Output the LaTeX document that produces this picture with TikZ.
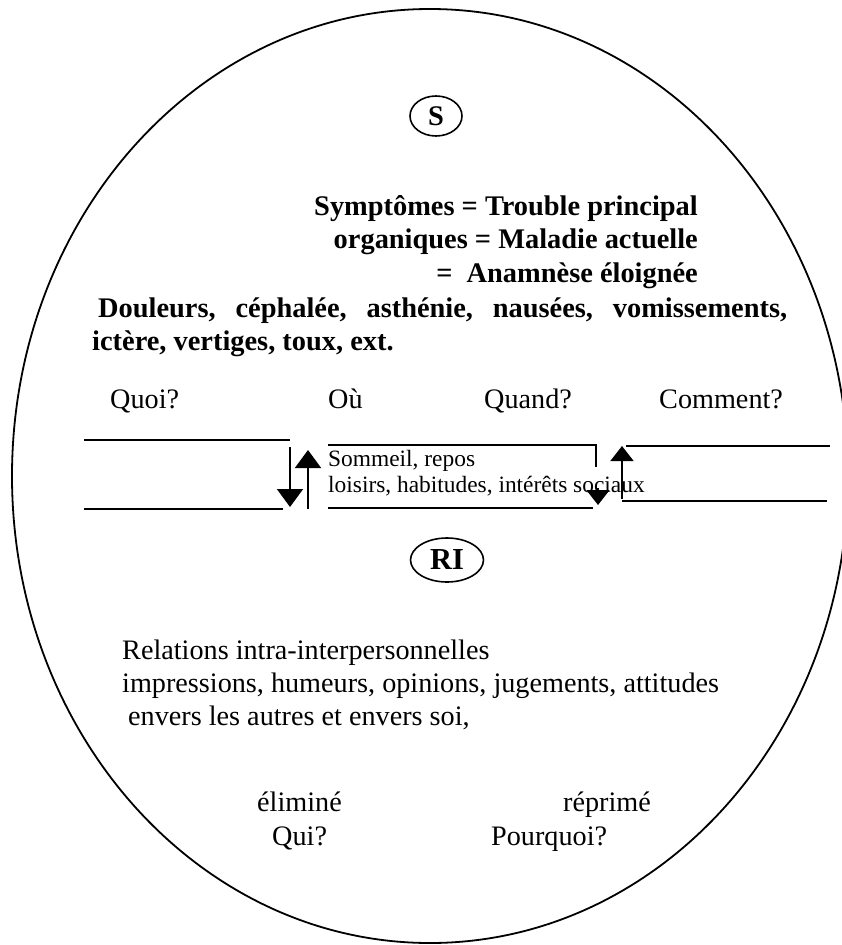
\documentclass[tikz,border=0pt]{standalone}
\usepackage{fontspec}
\setmainfont{Liberation Serif}
\usetikzlibrary{arrows.meta,shapes.geometric}
\begin{document}
\begin{tikzpicture}[x=1pt,y=-1pt,
  big/.style={font=\fontsize{28.4}{33}\selectfont\bfseries, inner sep=0pt},
  reg/.style={font=\fontsize{28.2}{33}\selectfont, inner sep=0pt},
  small/.style={font=\fontsize{23.4}{26}\selectfont, inner sep=0pt},
  rulel/.style={line width=1.8pt},
  tipline/.style={line width=1.8pt, -{Triangle[width=26pt,length=18pt]}},
  smalltip/.style={line width=1.8pt, -{Triangle[width=23pt,length=15pt]}},
  tag/.style={draw, ellipse, line width=1.6pt, inner sep=0pt, font=\fontsize{28.4}{33}\selectfont\bfseries}]
\useasboundingbox (0,0) rectangle (841,945);
% outer ellipse
\draw[line width=1.8pt] (430,476) ellipse [x radius=418pt, y radius=467pt];
% labels in ellipses
\node[tag, minimum width=52pt, minimum height=40pt] (S) at (436,116) {S};
\node[tag, minimum width=73pt, minimum height=44pt, font=\fontsize{30.5}{33}\selectfont\bfseries] (RI) at (447,560) {RI};
% bold block
\node[big, anchor=base east] (t1) at (698,215) {Symptômes = Trouble principal};
\node[big, anchor=base east] (t2) at (698,248) {organiques = Maladie actuelle};
\node[big, anchor=base east] (t3) at (698,282) {=\ \ Anamnèse éloignée};
\node[big, anchor=base west] (t4) at (98,317) {\hbox to 689pt{Douleurs,\hfill céphalée,\hfill asthénie,\hfill nausées,\hfill vomissements,}};
\node[big, anchor=base west] (t5) at (92,350) {ictère, vertiges, toux, ext.};
% questions
\node[reg, anchor=base west] (q1) at (110,408) {Quoi?};
\node[reg, anchor=base west] (q2) at (328,408) {Où};
\node[reg, anchor=base west] (q3) at (484,408) {Quand?};
\node[reg, anchor=base west] (q4) at (659,408) {Comment?};
% middle text
\node[small, anchor=base west] (m1) at (328,466) {Sommeil, repos};
\node[small, anchor=base west] (m2) at (328,492) {loisirs, habitudes, intérêts sociaux};
% line coordinates
\coordinate (lt1) at (84,440); \coordinate (lt2) at (290,440);
\coordinate (lb1) at (84,509); \coordinate (lb2) at (283,509);
\coordinate (da1) at (290,447); \coordinate (da2) at (290,507);
\coordinate (ua1) at (308,509); \coordinate (ua2) at (308,450);
\coordinate (mt1) at (328,445); \coordinate (mt2) at (596,445); \coordinate (mt3) at (596,467);
\coordinate (mb1) at (328,508); \coordinate (mb2) at (593,508);
\coordinate (md1) at (598,488); \coordinate (md2) at (598,505);
\coordinate (rt1) at (626,446); \coordinate (rt2) at (830,446);
\coordinate (rb1) at (827,501); \coordinate (rb2) at (622,501); \coordinate (ru) at (622,446);
\draw[rulel] (lt1) -- (lt2);
\draw[rulel] (lb1) -- (lb2);
\draw[tipline] (da1) -- (da2);
\draw[tipline] (ua1) -- (ua2);
\draw[rulel] (mt1) -- (mt2) -- (mt3);
\draw[rulel] (mb1) -- (mb2);
\draw[smalltip] (md1) -- (md2);
\draw[rulel] (rt1) -- (rt2);
\draw[rulel] (rb1) -- (rb2);
\draw[smalltip] ([yshift=2pt]rb2) -- (ru);
% lower text
\node[reg, anchor=base west] (r1) at (122,659) {Relations intra-interpersonnelles};
\node[reg, anchor=base west] (r2) at (122,692) {impressions, humeurs, opinions, jugements, attitudes};
\node[reg, anchor=base west] (r3) at (128,725) {envers les autres et envers soi,};
\node[reg, anchor=base west] (e1) at (257,811) {éliminé};
\node[reg, anchor=base west] (e2) at (272,845) {Qui?};
\node[reg, anchor=base west] (p1) at (563,811) {réprimé};
\node[reg, anchor=base west] (p2) at (491,845) {Pourquoi?};
\end{tikzpicture}
\end{document}
